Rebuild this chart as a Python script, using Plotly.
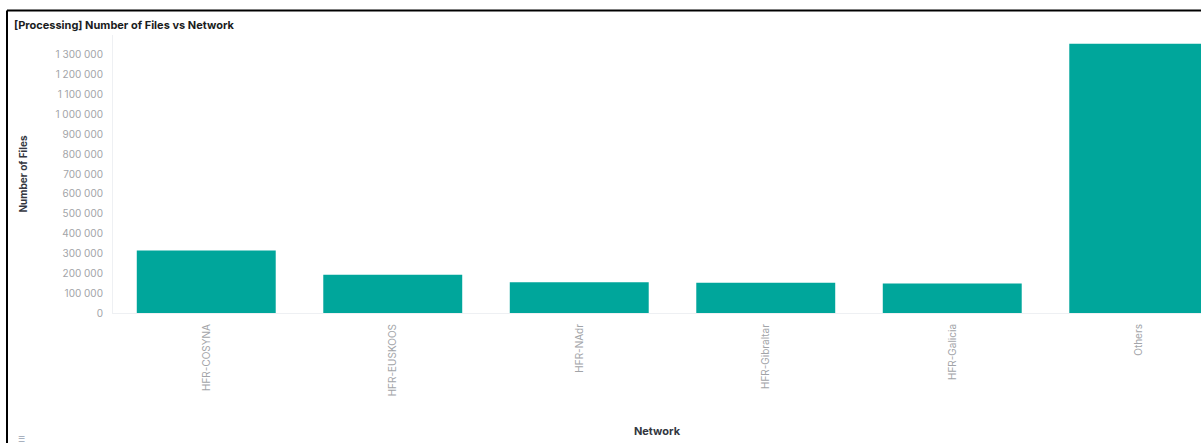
import plotly.graph_objects as go

networks = ["HFR-COSYNA", "HFR-EUSKOOS", "HFR-NAdr", "HFR-Gibraltar", "HFR-Galicia", "Others"]
n_files = [315000, 193000, 155000, 152000, 148000, 1356000]
y_ticks = list(range(0, 1300001, 100000))

W, H = 1201, 443
ml, mr, mt, mb = 113, 0, 35, 130
pw, ph = W - ml - mr, H - mt - mb

def px_x(p):
    return (p - ml) / pw

def px_y(p):
    return (H - mb - p) / ph

fig = go.Figure()
fig.add_trace(go.Bar(x=networks, y=n_files, marker_color="#00a69b",
                     marker_line_width=0, width=0.745))

fig.update_layout(
    width=W, height=H,
    margin=dict(l=ml, r=mr, t=mt, b=mb),
    plot_bgcolor="white", paper_bgcolor="white",
    font=dict(family="Inter, Roboto, sans-serif", color="#343741"),
    separators=". ",
    showlegend=False,
    title=dict(text="<b>[Processing] Number of Files vs Network</b>",
               x=14 / W, xanchor="left", y=1 - 25 / H, yanchor="middle",
               font=dict(size=11, color="#1a1c21")),
)
fig.update_xaxes(
    range=[-0.5, -0.5 + pw / 186.5],
    tickangle=-90, tickfont=dict(size=10, color="#a2a4a8"),
    ticklabelstandoff=6,
    showline=True, linecolor="#eef0f3", linewidth=1,
    showgrid=False, ticks="", ticklen=0,
    title=dict(text="<b>Network</b>", font=dict(size=11, color="#343741"), standoff=31),
)
fig.update_yaxes(
    range=[0, 1400000], tickvals=y_ticks, tickformat=",d",
    tickfont=dict(size=10, color="#a2a4a8"),
    ticklabelstandoff=7,
    showline=True, linecolor="#eef0f3", linewidth=1,
    showgrid=False, zeroline=False, ticks="", ticklen=0,
    title=dict(text="<b>Number of Files</b>", font=dict(size=10, color="#343741"), standoff=25),
)

# panel border
fig.add_shape(type="line", xref="paper", yref="paper",
              x0=px_x(7), x1=px_x(W + 10), y0=px_y(10.5), y1=px_y(10.5),
              line=dict(color="black", width=2))
fig.add_shape(type="line", xref="paper", yref="paper",
              x0=px_x(7), x1=px_x(7), y0=px_y(10.5), y1=px_y(H + 10),
              line=dict(color="black", width=2))

fig.add_annotation(text="☰", xref="paper", yref="paper", x=px_x(16), y=px_y(446),
                   showarrow=False, font=dict(size=8, color="#98a2b3"))

fig.write_html("out.html", config={"displayModeBar": False},
               post_script="document.body.style.margin='0';")
